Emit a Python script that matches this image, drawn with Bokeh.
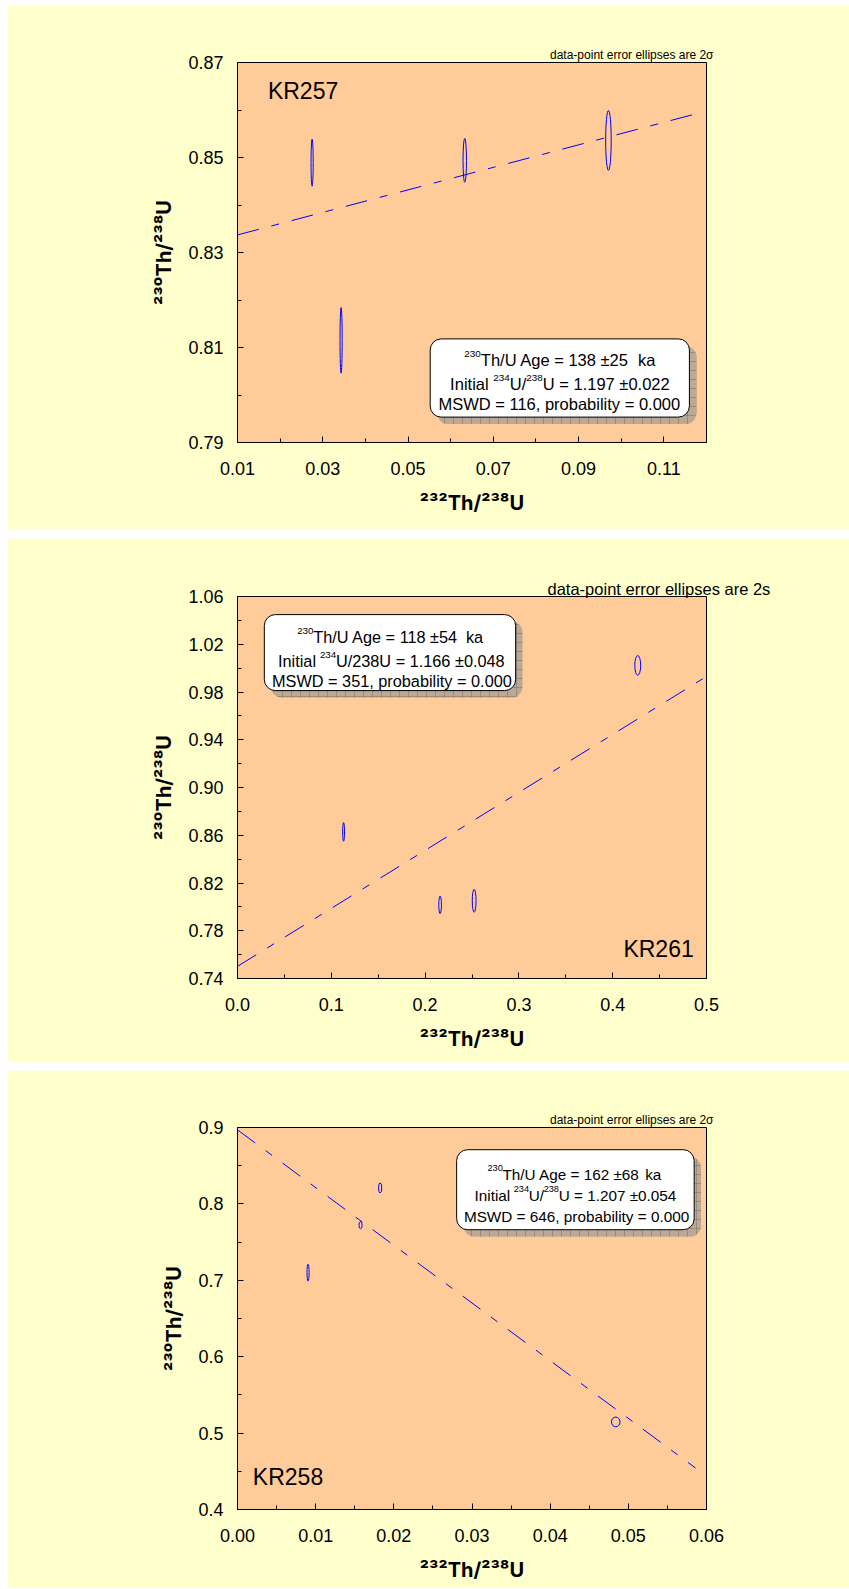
from bokeh.plotting import figure
from bokeh.layouts import column
from bokeh.models import Range1d, FixedTicker, PrintfTickFormatter, Label, BoxAnnotation, Title
from bokeh.embed import file_html
from bokeh.resources import INLINE

# ---------------- data ----------------
# KR257
kr257_x = [0.0275, 0.0343, 0.0633, 0.0970]
kr257_y = [0.8489, 0.8115, 0.8494, 0.8536]
kr257_w = [0.0005, 0.0005, 0.0008, 0.0013]
kr257_h = [0.0099, 0.0138, 0.0092, 0.0126]
kr257_line_x = [0.01, 0.118]
kr257_line_y = [0.8337, 0.8593]
kr257_xticks = [0.01, 0.03, 0.05, 0.07, 0.09, 0.11]
kr257_xminor = [0.02, 0.04, 0.06, 0.08, 0.10, 0.12]
kr257_yticks = [0.79, 0.81, 0.83, 0.85, 0.87]
kr257_yminor = [0.80, 0.82, 0.84, 0.86]
kr257_text = [[("230", True), ("Th/U Age = 138 ±25  ka", False)],
              [("Initial ", False), ("234", True), ("U/", False), ("238", True), ("U = 1.197 ±0.022", False)],
              [("MSWD = 116, probability = 0.000", False)]]

# KR261
kr261_x = [0.1131, 0.2160, 0.2523, 0.4267]
kr261_y = [0.8628, 0.8017, 0.8051, 1.0023]
kr261_w = [0.0020, 0.0028, 0.0040, 0.0063]
kr261_h = [0.0156, 0.0147, 0.0192, 0.0164]
kr261_line_x = [0.0, 0.5]
kr261_line_y = [0.7502, 0.9930]
kr261_xticks = [0.0, 0.1, 0.2, 0.3, 0.4, 0.5]
kr261_xminor = [0.05, 0.15, 0.25, 0.35, 0.45]
kr261_yticks = [0.74, 0.78, 0.82, 0.86, 0.90, 0.94, 0.98, 1.02, 1.06]
kr261_yminor = [0.76, 0.80, 0.84, 0.88, 0.92, 0.96, 1.00, 1.04]
kr261_text = [[("230", True), ("Th/U Age = 118 ±54  ka", False)],
              [("Initial ", False), ("234", True), ("U/238U = 1.166 ±0.048", False)],
              [("MSWD = 351, probability = 0.000", False)]]

# KR258
kr258_x = [0.00903, 0.01574, 0.01825, 0.04839]
kr258_y = [0.7100, 0.7721, 0.8209, 0.5146]
kr258_w = [0.00027, 0.00040, 0.00040, 0.00109]
kr258_h = [0.0221, 0.0093, 0.0133, 0.0128]
kr258_line_x = [0.0, 0.0586]
kr258_line_y = [0.8969, 0.4543]
kr258_xticks = [0.00, 0.01, 0.02, 0.03, 0.04, 0.05, 0.06]
kr258_xminor = [0.005, 0.015, 0.025, 0.035, 0.045, 0.055]
kr258_yticks = [0.4, 0.5, 0.6, 0.7, 0.8, 0.9]
kr258_yminor = [0.45, 0.55, 0.65, 0.75, 0.85]
kr258_text = [[("230", True), ("Th/U Age = 162 ±68  ka", False)],
              [("Initial ", False), ("234", True), ("U/", False), ("238", True), ("U = 1.207 ±0.054", False)],
              [("MSWD = 646, probability = 0.000", False)]]

x_title = "²³²Th/²³⁸U"
y_title = "²³⁰Th/²³⁸U"

FONT = "Liberation Sans"
TITLE_FONT = "Inter"
FIG_W = 842
SUP_SCALE = 0.6
SUP_RAISE = 0.38

# Arial / Liberation Sans advance widths (1/1000 em) used to lay out superscripts
ARIAL_W = {' ': 278, '/': 278, '.': 278, ',': 278, '=': 584, '±': 549,
           'A': 667, 'D': 722, 'I': 278, 'M': 833, 'S': 667, 'T': 611, 'U': 722, 'W': 944,
           'a': 556, 'b': 556, 'e': 556, 'g': 556, 'h': 556, 'i': 222, 'k': 500, 'l': 222,
           'n': 556, 'o': 556, 'p': 556, 'r': 333, 't': 278, 'y': 500}


def text_width(s, size):
    return sum(ARIAL_W.get(c, 556) for c in s) / 1000.0 * size


def make_panel(name, xs, ys, ws, hs, lx, ly, xr, yr, xt, xm, yt, ym, xfmt, yfmt,
               lines, note, height, borders, box, text_cx, baselines, box_font,
               name_pos, name_align, note_align, note_offset, note_font, note_standoff):
    bl, br, bt, bb = borders
    W = FIG_W - bl - br
    H = height - bt - bb

    def dx(fx):
        return xr[0] + fx / W * (xr[1] - xr[0])

    def dy(fy):
        return yr[1] - fy / H * (yr[1] - yr[0])

    p = figure(width=FIG_W, height=height, output_backend="svg", toolbar_location=None,
               x_range=Range1d(*xr), y_range=Range1d(*yr),
               min_border_left=bl, min_border_right=br, min_border_top=bt, min_border_bottom=bb,
               border_fill_color="#FFFFCC", background_fill_color="#FFCC99",
               outline_line_color="black", outline_line_width=1)
    p.grid.visible = False

    p.xaxis.ticker = FixedTicker(ticks=xt, minor_ticks=xm)
    p.yaxis.ticker = FixedTicker(ticks=yt, minor_ticks=ym)
    p.xaxis.formatter = PrintfTickFormatter(format=xfmt)
    p.yaxis.formatter = PrintfTickFormatter(format=yfmt)
    for ax in (p.xaxis, p.yaxis):
        ax.major_tick_in = 6
        ax.major_tick_out = 0
        ax.minor_tick_in = 4
        ax.minor_tick_out = 0
        ax.axis_line_color = "black"
        ax.major_tick_line_color = "black"
        ax.minor_tick_line_color = "black"
        ax.major_label_text_font = FONT
        ax.major_label_text_font_size = "18px"
        ax.major_label_text_color = "black"
        ax.axis_label_text_font = TITLE_FONT
        ax.axis_label_text_font_size = "20px"
        ax.axis_label_text_font_style = "bold"
        ax.axis_label_text_color = "black"
    p.xaxis.axis_label = x_title
    p.yaxis.axis_label = y_title
    p.xaxis.major_label_standoff = 19
    p.xaxis.axis_label_standoff = 13
    p.yaxis.major_label_standoff = 14
    p.yaxis.axis_label_standoff = 9

    # note above the frame
    p.add_layout(Title(text=note, align=note_align, offset=note_offset, standoff=note_standoff,
                       text_font=FONT, text_font_size=note_font, text_font_style="normal",
                       text_color="black"), "above")

    # regression line and error ellipses
    p.line(lx, ly, line_color="#0000FF", line_width=1, line_dash="22 13 8 13")
    p.ellipse(x=xs, y=ys, width=ws, height=hs, fill_alpha=0,
              line_color="#0000FF", line_width=1.0)

    # result box with hatched shadow
    l, t, r, b = box
    off = 7
    p.add_layout(BoxAnnotation(left=dx(l + off), right=dx(r + off), top=dy(t + off), bottom=dy(b + off),
                               fill_color="#BBA995", fill_alpha=1.0, line_alpha=0,
                               hatch_pattern="+", hatch_color="#7A6A5A", hatch_scale=9,
                               hatch_weight=0.6, hatch_alpha=0.8, border_radius=11))
    p.add_layout(BoxAnnotation(left=dx(l), right=dx(r), top=dy(t), bottom=dy(b),
                               fill_color="white", fill_alpha=1.0, line_color="black",
                               line_width=1, line_alpha=1.0, border_radius=11))

    sup_size = box_font * SUP_SCALE
    for segs, by in zip(lines, baselines):
        pieces = []
        for txt, sup in segs:
            size = sup_size if sup else box_font
            if sup:
                pieces.append((txt, size, True))
            else:
                parts = txt.split("  ")
                for k, part in enumerate(parts):
                    if k < len(parts) - 1:
                        pieces.append((part, size, False))
                        pieces.append(("  ", size, None))
                    else:
                        pieces.append((part, size, False))
        total = sum(text_width(s, sz) for s, sz, _ in pieces)
        cur = text_cx - total / 2.0
        for s, sz, sup in pieces:
            wpx = text_width(s, sz)
            if sup is not None and s.strip():
                yb = by - (box_font * SUP_RAISE if sup else 0)
                p.add_layout(Label(x=dx(cur), y=dy(yb), text=s, text_font=FONT,
                                   text_font_size=f"{sz:.1f}px", text_align="left",
                                   text_baseline="alphabetic", text_color="black"))
            cur += wpx

    # sample name
    p.add_layout(Label(x=dx(name_pos[0]), y=dy(name_pos[1]), text=name, text_font=FONT,
                       text_font_size="23px", text_align=name_align,
                       text_baseline="alphabetic", text_color="black"))
    return p


p1 = make_panel("KR257", kr257_x, kr257_y, kr257_w, kr257_h, kr257_line_x, kr257_line_y,
                (0.01, 0.12), (0.79, 0.87), kr257_xticks, kr257_xminor, kr257_yticks, kr257_yminor,
                "%.2f", "%.2f", kr257_text, "data-point error ellipses are 2σ",
                524, (230, 143, 57, 87), (192.7, 276.4, 451.9, 354.6), 322.4,
                [297.5, 321.5, 341.5], 16.5, (30.4, 28.5), "left",
                "right", -7, "12px", 1)

p2 = make_panel("KR261", kr261_x, kr261_y, kr261_w, kr261_h, kr261_line_x, kr261_line_y,
                (0.0, 0.5), (0.74, 1.06), kr261_xticks, kr261_xminor, kr261_yticks, kr261_yminor,
                "%.1f", "%.2f", kr261_text, "data-point error ellipses are 2s",
                523, (227, 138, 58, 83), (27.3, 18.1, 282.9, 94.1), 155.1,
                [40.8, 64.2, 84.2], 16.3, (464.0, 352.5), "right",
                "left", 310, "16.5px", -3)

p3 = make_panel("KR258", kr258_x, kr258_y, kr258_w, kr258_h, kr258_line_x, kr258_line_y,
                (0.0, 0.06), (0.4, 0.9), kr258_xticks, kr258_xminor, kr258_yticks, kr258_yminor,
                "%.2f", "%.1f", kr258_text, "data-point error ellipses are 2σ",
                518, (220, 143, 57, 79), (223.8, 22.2, 466.4, 102.2), 343.9,
                [46.6, 67.6, 88.9], 15.3, (15.7, 349.5), "left",
                "right", -7, "12px", 2)

layout = column(p1, p2, p3, spacing=9, margin=(5, 0, 0, 7))
open("out.html", "w").write(file_html(layout, INLINE))
